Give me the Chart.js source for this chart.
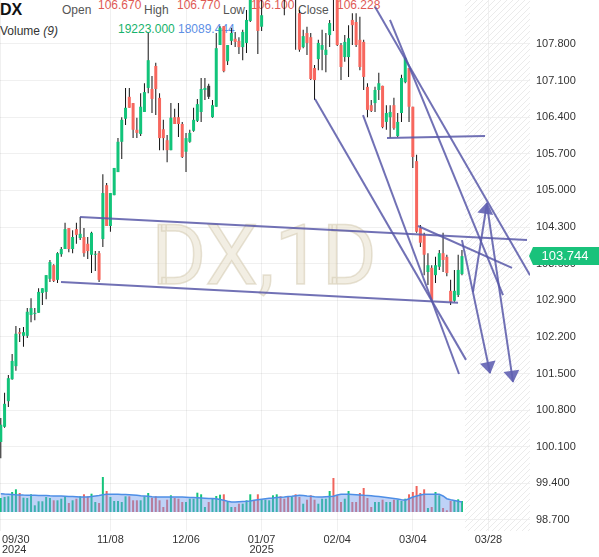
<!DOCTYPE html>
<html><head><meta charset="utf-8">
<script src="https://cdn.jsdelivr.net/npm/chart.js@4.4.1/dist/chart.umd.min.js"></script>
<style>
html,body{margin:0;padding:0;background:#fff;}
#wrap{position:relative;width:599px;height:557px;overflow:hidden;}
#hdr{position:absolute;left:0;top:0;width:599px;height:40px;z-index:0;font-family:"Liberation Sans",Arial,sans-serif;}
#hdr span{position:absolute;white-space:nowrap;font-size:12px;line-height:12px;}
#hdr .l{color:#555;}
#hdr .r{color:#e05a55;}
canvas{position:absolute;left:0;top:0;z-index:1;}
</style></head><body>
<div id="wrap">
<div id="hdr">
 <span style="left:0;top:2px;font-size:16px;line-height:16px;font-weight:bold;color:#111">DX</span>
 <span class="l" style="left:62px;top:4px">Open</span>
 <span class="r" style="left:98px;top:-1px">106.670</span>
 <span class="l" style="left:144px;top:4px">High</span>
 <span class="r" style="left:177px;top:-1px">106.770</span>
 <span class="l" style="left:223px;top:4px">Low</span>
 <span class="r" style="left:251px;top:-1px">106.100</span>
 <span class="l" style="left:298px;top:4px">Close</span>
 <span class="r" style="left:337px;top:-1px">106.228</span>
 <span style="left:0;top:25px;color:#333">Volume <i>(9)</i></span>
 <span style="left:118px;top:23px;color:#17b26c">19223.000</span>
 <span style="left:178px;top:23px;color:#5d8fe6">18089.444</span>
</div>
<canvas id="c" width="599" height="557"></canvas>
</div>
<script>
// ---- data (index 0 = 09/30/2024, one entry per trading day) ----
const openV = [100.19,100.48,100.97,101.39,101.64,102.29,102.22,102.22,102.62,102.64,102.66,103.04,103.06,103.31,103.57,103.29,103.78,103.88,104.28,103.88,
104.26,104.09,104.11,103.98,103.77,103.77,103.80,104.07,105.10,104.32,104.91,105.35,105.93,106.37,106.79,106.67,106.16,106.08,106.50,106.96,
106.94,107.38,106.77,106.17,105.96,105.77,106.40,106.40,106.27,105.74,105.93,106.14,106.33,106.50,106.92,107.00,106.40,106.60,107.78,108.14,
107.47,107.86,107.90,107.86,107.74,107.82,108.24,109.20,108.80,108.13,108.75,109.00,109.10,109.50,109.70,109.10,108.90,108.80,109.10,108.39,
107.74,108.01,107.93,107.34,107.51,107.69,107.59,107.97,109.30,108.75,107.78,107.55,107.55,108.26,108.22,107.88,107.84,106.98,106.63,106.67,
106.92,107.00,106.31,106.40,106.63,106.04,106.48,107.07,107.34,106.60,105.56,104.28,104.15,103.44,103.52,103.38,103.54,103.80,103.73,103.08,
102.89,103.00,103.40];
const highV = [100.65,101.13,101.47,101.87,102.41,102.37,102.39,102.75,102.94,102.75,103.13,103.13,103.38,103.67,103.59,103.82,103.92,104.38,104.28,104.24,
104.38,104.49,104.28,104.11,104.21,103.84,103.84,105.31,105.14,104.95,105.43,106.00,106.40,106.96,106.96,106.67,106.39,106.86,107.05,108.01,
107.19,107.44,106.86,106.35,106.06,106.67,106.56,106.67,106.31,106.10,106.16,106.58,106.75,107.15,107.15,107.04,106.73,108.01,108.14,108.14,
107.78,108.11,108.03,107.93,108.07,108.45,109.40,109.35,108.90,108.80,109.15,109.25,109.80,110.00,109.80,109.30,109.10,109.30,109.20,108.45,
108.07,108.13,108.01,107.40,107.88,108.07,108.01,108.26,109.50,108.80,107.82,107.97,108.16,108.39,108.39,108.32,107.88,107.05,106.73,106.98,
107.25,107.00,106.63,106.63,106.77,106.48,107.21,107.55,107.34,106.60,105.68,104.34,104.19,103.80,103.57,103.73,103.86,104.19,103.77,103.29,
103.48,103.77,103.86];
const lowV = [99.88,100.46,100.86,101.38,101.55,102.10,102.01,102.18,102.48,102.52,102.66,102.81,102.92,103.25,103.25,103.23,103.73,103.88,103.82,103.80,
103.98,104.05,103.73,103.69,103.42,103.46,103.25,103.92,104.32,104.21,104.91,105.35,105.60,106.25,106.58,106.00,106.00,106.04,106.50,106.86,
106.48,106.44,105.77,105.77,105.54,105.77,106.27,106.02,105.62,105.35,105.91,106.12,106.31,106.31,106.73,106.75,106.39,106.60,107.78,107.26,
107.40,107.78,107.74,107.61,107.49,107.63,108.22,108.75,107.61,108.05,108.68,108.85,108.95,109.35,108.90,108.35,108.70,108.70,107.69,107.65,
107.72,107.59,107.11,106.73,107.30,107.30,107.26,107.74,108.05,107.76,107.11,107.46,107.17,107.78,107.74,107.30,106.92,106.40,106.50,106.50,
106.73,106.19,106.16,106.00,106.16,106.02,106.31,107.05,106.31,105.43,104.19,103.92,103.38,103.19,102.87,103.23,103.48,103.44,103.36,102.81,
102.87,102.96,103.38];
const closeV = [100.52,100.92,101.41,101.74,102.26,102.26,102.29,102.68,102.75,102.66,103.06,103.13,103.38,103.63,103.27,103.80,103.88,104.26,103.88,104.11,
104.15,104.17,103.80,103.84,104.19,103.78,103.29,104.95,104.32,104.95,105.43,105.93,106.35,106.58,106.58,106.16,106.10,106.60,106.88,107.49,
106.75,106.94,106.00,106.00,105.77,106.39,106.27,106.27,105.64,106.00,106.10,106.35,106.65,106.94,106.96,106.79,106.63,107.72,108.11,107.28,
107.78,108.01,107.84,107.74,108.03,108.26,109.20,108.80,108.05,108.35,109.00,109.10,109.50,109.70,109.10,108.90,108.80,109.20,108.70,107.69,
107.95,107.82,107.13,107.11,107.82,107.78,107.69,108.20,108.75,107.78,107.36,107.84,107.91,108.16,107.78,107.36,107.17,106.54,106.52,106.92,
107.05,106.21,106.48,106.50,106.19,106.31,107.15,107.53,106.60,105.64,104.21,104.00,103.77,103.57,102.91,103.57,103.80,103.67,103.42,102.87,
103.08,103.48,103.744];
const volumeV = [14000,15000,15700,20000,22700,19000,14300,14000,17700,6700,10700,10700,15000,14000,11700,11700,13300,15700,9000,11700,
13300,15700,17700,15700,18300,10000,9000,35000,21000,15000,11000,11000,10000,15700,15700,11700,11700,11700,15700,19000,
14300,15700,11700,5000,12300,16700,14000,13300,10000,10000,13300,13300,19300,17700,5000,10000,14000,16000,17300,17700,
10000,5000,5000,8300,8300,11700,17700,11700,17700,12300,12300,11700,16700,17700,15700,13300,15000,15000,17700,15000,
8300,12300,16700,12300,8300,13300,13300,21000,34000,16700,10000,13300,21000,10000,10000,19000,24000,14000,5000,10000,
10000,12300,10000,10000,12300,12300,11000,13300,17700,20000,26000,19000,22700,4000,5000,20000,16700,4000,1700,11000,
11700,12700,11000];
const volumeMA9 = [18300,18000,17800,17600,17300,17100,16900,16800,16700,16700,16600,16500,16400,16200,16100,16000,15900,15700,15500,15400,
15300,15100,15000,15000,15500,16000,16500,17300,17700,17700,17700,17700,17500,17400,17300,17100,16700,16300,16000,15700,
15300,15000,15000,15000,15000,15000,15000,15000,15000,14800,14600,14400,14200,14000,13800,13600,13500,13300,12500,11700,
10800,10000,10000,10300,10500,10700,11000,11700,12300,12800,13300,13700,14000,14400,14700,15000,15400,15800,16300,16700,
16400,16000,15700,15300,15000,15000,15300,15500,15700,17000,17700,17700,17700,17500,17300,17000,16700,16500,16200,15800,
15400,15000,14500,14000,13500,13000,12300,11700,13300,15000,16000,17000,17700,17700,17700,17700,17700,16000,13300,12300,
11500,10700,10000];
const highlightBar = 55;
const xTickIdx = [0,29,49,69,89,109,129];
const xTickLabels = ['09/30','11/08','12/06','01/07','02/04','03/04','03/28'];
const xTickYears = ['2024','','','2025','','',''];
const yTicks = [98.7,99.4,100.1,100.8,101.5,102.2,102.9,103.6,104.3,105.0,105.7,106.4,107.1,107.8];
// trend lines: [startIdx, startPrice, endIdx, endPrice]
const trendLines = [
  [20.95,104.49,139.21,104.05],
  [15.93,103.25,120.96,102.85],
  [83.12,106.75,123.07,101.76],
  [95.82,106.44,121.22,101.49],
  [98.99,108.51,140.0,103.38],
  [102.96,108.26,132.86,103.00],
  [102.17,106.00,128.10,106.04],
  [110.37,104.32,135.24,103.52]
];
const arrowLines = [
  [124.92,103.06,128.62,104.76],
  [128.62,104.72,135.50,101.34],
  [122.00,104.05,129.42,101.51]
];
const futureStart = 122.8;
const watermark = 'DX,1D';

// ---- styles ----
const upColor = '#12c47a', downColor = '#f7675e', wickColor = '#111';
const lineColor = 'rgba(88,88,168,0.85)';
const gridColor = 'rgba(0,0,0,0.06)';
const N = openV.length;
const idx = openV.map((_, i) => i);
const candleCol = idx.map(i => i === highlightBar ? '#3a3a3a' : (closeV[i] >= openV[i] ? upColor : downColor));
const volCol = idx.map(i => closeV[i] >= openV[i] ? '#14c47a' : '#f0645c');

const datasets = [];
datasets.push({type:'bar', yAxisID:'yv', order:10, grouped:false, barThickness:2, inflateAmount:0,
  data: idx.map(i => ({x:i, y:volumeV[i]})), backgroundColor: volCol});
datasets.push({type:'line', yAxisID:'yv', order:9, data: idx.map(i => ({x:i, y:volumeMA9[i]})),
  borderColor:'#4d8ee6', borderWidth:1.5, backgroundColor:'rgba(110,155,238,0.45)', fill:'origin', pointRadius:0, tension:0});
datasets.push({type:'bar', yAxisID:'y', order:8, grouped:false, barThickness:1, inflateAmount:0,
  data: idx.map(i => ({x:i, y:[lowV[i], highV[i]]})), backgroundColor: wickColor});
datasets.push({type:'bar', yAxisID:'y', order:7, grouped:false, barThickness:3, inflateAmount:0, minBarLength:1,
  data: idx.map(i => ({x:i, y:[openV[i], closeV[i]]})), backgroundColor: candleCol});
trendLines.forEach(t => datasets.push({type:'line', yAxisID:'y', order:1, data:[{x:t[0],y:t[1]},{x:t[2],y:t[3]}],
  borderColor:lineColor, borderWidth:2, pointRadius:0, fill:false}));
arrowLines.forEach(t => datasets.push({type:'line', yAxisID:'y', order:1, arrowHead:true, data:[{x:t[0],y:t[1]},{x:t[2],y:t[3]}],
  borderColor:lineColor, borderWidth:2, pointRadius:0, fill:false}));

const bgPlugin = {
  id:'bg',
  beforeDatasetsDraw(chart){
    const {ctx, chartArea:a, scales:{x}} = chart;
    // future hatch
    const x0 = x.getPixelForValue(futureStart);
    ctx.save();
    ctx.beginPath(); ctx.rect(x0, a.top, a.right - x0, a.bottom - a.top); ctx.clip();
    ctx.strokeStyle = '#ebebeb'; ctx.lineWidth = 1;
    const h = a.bottom - a.top;
    for (let k = x0 - h; k < a.right + 10; k += 6) {
      ctx.beginPath(); ctx.moveTo(k, a.bottom); ctx.lineTo(k + h, a.top); ctx.stroke();
    }
    ctx.restore();
    // watermark
    ctx.save();
    ctx.font = '84px Roboto';
    ctx.textAlign = 'center'; ctx.textBaseline = 'middle';
    ctx.fillStyle = 'rgba(232,224,204,0.55)';
    ctx.strokeStyle = 'rgba(205,192,165,0.45)'; ctx.lineWidth = 1.5;
    const cx = (a.left + a.right) / 2 - 1, cy = (a.top + a.bottom) / 2 - 3;
    ctx.fillText(watermark, cx, cy);
    ctx.strokeText(watermark, cx, cy);
    ctx.restore();
  },
  afterDatasetsDraw(chart){
    const ctx = chart.ctx;
    chart.data.datasets.forEach((ds, k) => {
      if (!ds.arrowHead) return;
      const pts = chart.getDatasetMeta(k).data;
      const p = pts[0], q = pts[pts.length - 1];
      const ang = Math.atan2(q.y - p.y, q.x - p.x);
      ctx.save(); ctx.translate(q.x, q.y); ctx.rotate(ang);
      ctx.beginPath(); ctx.moveTo(1, 0); ctx.lineTo(-11, -8); ctx.lineTo(-11, 8); ctx.closePath();
      ctx.fillStyle = 'rgba(98,98,178,0.9)'; ctx.fill(); ctx.restore();
    });
  },
  afterDraw(chart){
    const {ctx, chartArea:a, scales:{x, y}} = chart;
    // x labels
    ctx.save();
    ctx.font = '11px "Liberation Sans", Arial'; ctx.fillStyle = '#333'; ctx.textBaseline = 'middle';
    xTickIdx.forEach((v, j) => {
      let px = x.getPixelForValue(v);
      const w = ctx.measureText(xTickLabels[j]).width;
      if (px - w / 2 < 2) { ctx.textAlign = 'left'; px = 2; } else ctx.textAlign = 'center';
      ctx.fillText(xTickLabels[j], px, a.bottom + 9);
      if (xTickYears[j]) ctx.fillText(xTickYears[j], px, a.bottom + 19);
    });
    ctx.restore();
    // last price tag
    const last = closeV[N - 1];
    const py = y.getPixelForValue(last);
    const x0 = a.right + 2;
    ctx.save();
    ctx.fillStyle = '#19c27b';
    ctx.beginPath();
    ctx.moveTo(x0 - 3, py); ctx.lineTo(x0 + 1, py - 9); ctx.lineTo(599, py - 9);
    ctx.lineTo(599, py + 9); ctx.lineTo(x0 + 1, py + 9); ctx.closePath(); ctx.fill();
    ctx.fillStyle = '#fff'; ctx.font = '13px "Liberation Sans", Arial';
    ctx.textAlign = 'center'; ctx.textBaseline = 'middle';
    ctx.fillText(last.toFixed(3), 565, py + 0.5);
    ctx.restore();
  }
};

new Chart(document.getElementById('c'), {
  type: 'line',
  data: { datasets },
  options: {
    responsive: false, animation: false, devicePixelRatio: 1, events: [],
    layout: { padding: 0 },
    plugins: { legend: { display: false }, tooltip: { enabled: false } },
    scales: {
      x: { type:'linear', min:-0.21, max:140.0, offset:false,
        grid:{ color:gridColor, drawTicks:false, offset:false }, border:{ display:false },
        ticks:{ display:false },
        afterBuildTicks: s => { s.ticks = xTickIdx.map(v => ({value:v})); },
        afterFit: s => { s.height = 26; s.paddingLeft = 0; s.paddingRight = 0; } },
      y: { type:'linear', position:'right', min:98.488, max:108.641,
        grid:{ color:gridColor, drawTicks:false }, border:{ display:false },
        ticks:{ padding:6, color:'#333', font:{ size:11, family:'"Liberation Sans", Arial' },
          callback: v => Number(v).toFixed(3) },
        afterBuildTicks: s => { s.ticks = yTicks.map(v => ({value:v})); },
        afterFit: s => { s.width = 69; s.paddingTop = 0; s.paddingBottom = 0; } },
      yv: { type:'linear', display:false, min:-19000, max:512000 }
    }
  },
  plugins: [bgPlugin]
});
</script>
</body></html>
